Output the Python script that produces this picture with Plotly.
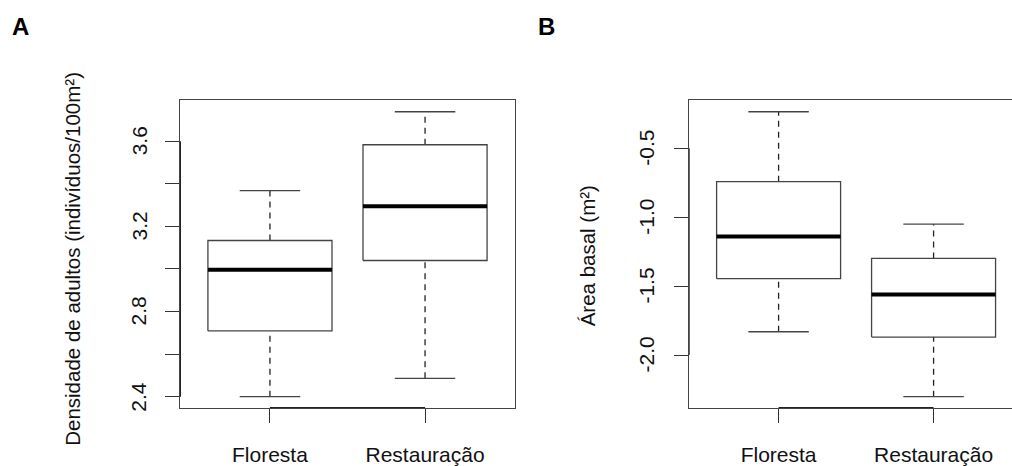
import plotly.graph_objects as go

categories = ["Floresta", "Restauração"]

# Panel A: Densidade de adultos
a_lower = [2.40, 2.486]
a_q1 = [2.709, 3.040]
a_median = [2.997, 3.295]
a_q3 = [3.134, 3.584]
a_upper = [3.368, 3.739]

# Panel B: Área basal
b_lower = [-1.831, -2.302]
b_q1 = [-1.446, -1.870]
b_median = [-1.140, -1.561]
b_q3 = [-0.742, -1.299]
b_upper = [-0.235, -1.050]

a_ticks = [2.4, 2.6, 2.8, 3.0, 3.2, 3.4, 3.6]
a_ticktext = ["2.4", "", "2.8", "", "3.2", "", "3.6"]
b_ticks = [-2.0, -1.5, -1.0, -0.5]
b_ticktext = ["-2.0", "-1.5", "-1.0", "-0.5"]

FONT = "Liberation Sans, Arial, sans-serif"
LINE = "#444444"
W = 1012
H = 466

fig = go.Figure()

def add_boxes(xa, ya, lower, q1, med, q3, upper):
    half = 0.4
    cap = 0.195
    for i in range(len(categories)):
        x = i + 1
        for (y0, y1) in [(q3[i], upper[i]), (lower[i], q1[i])]:
            fig.add_trace(go.Scatter(x=[x, x], y=[y0, y1], mode="lines",
                                     line=dict(color="#222222", width=1.3, dash="6px,5px"),
                                     xaxis=xa, yaxis=ya, showlegend=False, hoverinfo="skip"))
        for yv in [upper[i], lower[i]]:
            fig.add_trace(go.Scatter(x=[x - cap, x + cap], y=[yv, yv], mode="lines",
                                     line=dict(color=LINE, width=1.3),
                                     xaxis=xa, yaxis=ya, showlegend=False, hoverinfo="skip"))
        fig.add_trace(go.Scatter(x=[x - half, x + half, x + half, x - half, x - half],
                                 y=[q1[i], q1[i], q3[i], q3[i], q1[i]], mode="lines",
                                 line=dict(color=LINE, width=1.3),
                                 xaxis=xa, yaxis=ya, showlegend=False, hoverinfo="skip"))
        fig.add_trace(go.Scatter(x=[x - half, x + half], y=[med[i], med[i]], mode="lines",
                                 line=dict(color="#000000", width=4),
                                 xaxis=xa, yaxis=ya, showlegend=False, hoverinfo="skip"))

add_boxes("x", "y", a_lower, a_q1, a_median, a_q3, a_upper)
add_boxes("x2", "y2", b_lower, b_q1, b_median, b_q3, b_upper)

def yrange(lo, hi):
    d = (max(hi) - min(lo)) * 0.04
    return [min(lo) - d, max(hi) + d]

ya_rng = yrange(a_lower, a_upper)
yb_rng = yrange(b_lower, b_upper)

for xa, ya, rng, ticks in [("x", "y", ya_rng, a_ticks), ("x2", "y2", yb_rng, b_ticks)]:
    fig.add_trace(go.Scatter(x=[1, 2], y=[rng[0], rng[0]], mode="lines",
                             line=dict(color="#222222", width=2), cliponaxis=False,
                             xaxis=xa, yaxis=ya, showlegend=False, hoverinfo="skip"))
    fig.add_trace(go.Scatter(x=[0.42, 0.42], y=[ticks[0], ticks[-1]], mode="lines",
                             line=dict(color="#222222", width=2), cliponaxis=False,
                             xaxis=xa, yaxis=ya, showlegend=False, hoverinfo="skip"))

yd = [1 - 410.7 / H, 1 - 101 / H]
common_x = dict(showgrid=False, zeroline=False, showline=True, linecolor=LINE, linewidth=1.3,
                ticks="outside", ticklen=14, tickcolor="#333333", tickwidth=1.3,
                tickvals=[1, 2], ticktext=categories, ticklabelstandoff=14,
                tickfont=dict(family=FONT, size=21, color="#111111"))
common_y = dict(showgrid=False, zeroline=False, showline=True, linecolor=LINE, linewidth=1.3,
                ticks="outside", ticklen=14, tickcolor="#333333", tickwidth=1.3,
                showticklabels=False)

annotations = [
    dict(text="Densidade de adultos (indivíduos/100m²)", x=73 / W, y=1 - 260.5 / H,
         xref="paper", yref="paper", xanchor="center", yanchor="middle", textangle=-90,
         showarrow=False, font=dict(family=FONT, size=20.5, color="#111111")),
    dict(text="Área basal (m²)", x=587 / W, y=1 - 258 / H,
         xref="paper", yref="paper", xanchor="center", yanchor="middle", textangle=-90,
         showarrow=False, font=dict(family=FONT, size=20.5, color="#111111")),
    dict(text="<b>A</b>", x=20.5 / W, y=1 - 26.5 / H, xref="paper", yref="paper",
         xanchor="center", yanchor="middle",
         showarrow=False, font=dict(family=FONT, size=24, color="#000000")),
    dict(text="<b>B</b>", x=546 / W, y=1 - 26.5 / H, xref="paper", yref="paper",
         xanchor="center", yanchor="middle",
         showarrow=False, font=dict(family=FONT, size=24, color="#000000")),
]

# y tick labels (rotated, centred on their ticks)
for vals, texts, yref, xpx in [(a_ticks, a_ticktext, "y", 139), (b_ticks, b_ticktext, "y2", 646.5)]:
    for v, t in zip(vals, texts):
        if t:
            annotations.append(dict(text=t, x=xpx / W, y=v, xref="paper", yref=yref,
                                    xanchor="center", yanchor="middle", textangle=-90,
                                    showarrow=False,
                                    font=dict(family=FONT, size=21, color="#111111")))

fig.update_layout(
    width=W, height=H,
    margin=dict(l=0, r=0, t=0, b=0),
    paper_bgcolor="white", plot_bgcolor="white",
    hovermode=False,
    xaxis=dict(domain=[180 / W, 515 / W], range=[0.42, 2.58], mirror=True, **common_x),
    yaxis=dict(domain=yd, range=ya_rng, mirror=True, tickvals=a_ticks, **common_y),
    xaxis2=dict(domain=[688.7 / W, 1.0], range=[0.42, 2.506], mirror=True, anchor="y2", **common_x),
    yaxis2=dict(domain=yd, range=yb_rng, mirror=False, anchor="x2", tickvals=b_ticks, **common_y),
    annotations=annotations,
)

fig.write_html("out.html", config={"displayModeBar": False},
               post_script="document.body.style.margin='0';document.body.style.overflow='hidden';")
